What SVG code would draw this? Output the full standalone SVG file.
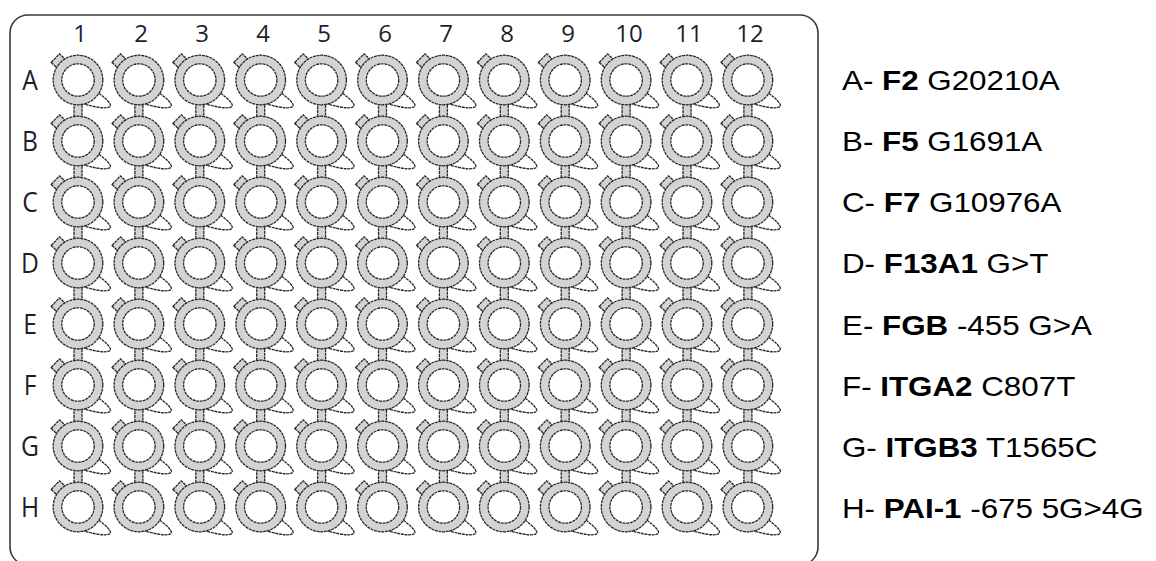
<svg xmlns="http://www.w3.org/2000/svg" xmlns:xlink="http://www.w3.org/1999/xlink" width="1156" height="561" viewBox="0 0 1156 561">
<style>
  .ol{stroke:#2a2a2a;stroke-width:1.3;stroke-dasharray:3 0.7}
  .ring{fill:#d3d3d3}
  .hole{fill:#ffffff}
  .lobe{fill:#ffffff}
  .lab{font-family:"Open Sans","Liberation Sans",sans-serif;fill:#1e1e2a;text-anchor:middle}
  .num{font-size:24px}
  .row{font-size:28px}
  .leg{font-family:"Liberation Sans",Arial,sans-serif;font-size:28.5px;fill:#000}
  .b{font-weight:bold}
</style>
<defs>
  <g id="wellBase">
    <path class="ol lobe" d="M20.8,13 C27,18 32,22 32.5,25.5 C32.5,29 20,28.5 5.9,23.8 Z"/>
    <rect class="ol ring" x="-6" y="-31.5" width="12" height="8" transform="rotate(-46)"/>
    <circle class="ol ring" r="24.8"/>
    <circle class="ol hole" r="16.2"/>
  </g>
  <g id="well">
    <rect class="ol ring" x="-4" y="22" width="8" height="16"/>
    <use xlink:href="#wellBase"/>
  </g>
</defs>
<rect id="plate" x="10" y="15" width="808" height="550" rx="18" fill="none" stroke="#3a3a3a" stroke-width="1.6"/>
<g id="colLabels" class="lab num">
  <text x="80" y="41.5">1</text><text x="141" y="41.5">2</text><text x="202" y="41.5">3</text><text x="263" y="41.5">4</text>
  <text x="324" y="41.5">5</text><text x="385" y="41.5">6</text><text x="446" y="41.5">7</text><text x="507" y="41.5">8</text>
  <text x="568" y="41.5">9</text><text x="629" y="41.5">10</text><text x="689" y="41.5">11</text><text x="750" y="41.5">12</text>
</g>
<g id="rowLabels" class="lab row">
  <text transform="translate(30,90) scale(0.88,1)">A</text><text transform="translate(30,151) scale(0.88,1)">B</text>
  <text transform="translate(30,212) scale(0.88,1)">C</text><text transform="translate(30,273) scale(0.88,1)">D</text>
  <text transform="translate(30,334) scale(0.88,1)">E</text><text transform="translate(30,395) scale(0.88,1)">F</text>
  <text transform="translate(30,456) scale(0.88,1)">G</text><text transform="translate(30,517) scale(0.88,1)">H</text>
</g>
<g id="rowA" transform="translate(0,80)">
  <use xlink:href="#well" x="78"/><use xlink:href="#well" x="138.9"/><use xlink:href="#well" x="199.8"/><use xlink:href="#well" x="260.7"/><use xlink:href="#well" x="321.6"/><use xlink:href="#well" x="382.5"/><use xlink:href="#well" x="443.4"/><use xlink:href="#well" x="504.3"/><use xlink:href="#well" x="565.2"/><use xlink:href="#well" x="626.1"/><use xlink:href="#well" x="687"/><use xlink:href="#well" x="747.9"/>
</g>
<g id="rowB" transform="translate(0,141)">
  <use xlink:href="#well" x="78"/><use xlink:href="#well" x="138.9"/><use xlink:href="#well" x="199.8"/><use xlink:href="#well" x="260.7"/><use xlink:href="#well" x="321.6"/><use xlink:href="#well" x="382.5"/><use xlink:href="#well" x="443.4"/><use xlink:href="#well" x="504.3"/><use xlink:href="#well" x="565.2"/><use xlink:href="#well" x="626.1"/><use xlink:href="#well" x="687"/><use xlink:href="#well" x="747.9"/>
</g>
<g id="rowC" transform="translate(0,202)">
  <use xlink:href="#well" x="78"/><use xlink:href="#well" x="138.9"/><use xlink:href="#well" x="199.8"/><use xlink:href="#well" x="260.7"/><use xlink:href="#well" x="321.6"/><use xlink:href="#well" x="382.5"/><use xlink:href="#well" x="443.4"/><use xlink:href="#well" x="504.3"/><use xlink:href="#well" x="565.2"/><use xlink:href="#well" x="626.1"/><use xlink:href="#well" x="687"/><use xlink:href="#well" x="747.9"/>
</g>
<g id="rowD" transform="translate(0,263)">
  <use xlink:href="#well" x="78"/><use xlink:href="#well" x="138.9"/><use xlink:href="#well" x="199.8"/><use xlink:href="#well" x="260.7"/><use xlink:href="#well" x="321.6"/><use xlink:href="#well" x="382.5"/><use xlink:href="#well" x="443.4"/><use xlink:href="#well" x="504.3"/><use xlink:href="#well" x="565.2"/><use xlink:href="#well" x="626.1"/><use xlink:href="#well" x="687"/><use xlink:href="#well" x="747.9"/>
</g>
<g id="rowE" transform="translate(0,324)">
  <use xlink:href="#well" x="78"/><use xlink:href="#well" x="138.9"/><use xlink:href="#well" x="199.8"/><use xlink:href="#well" x="260.7"/><use xlink:href="#well" x="321.6"/><use xlink:href="#well" x="382.5"/><use xlink:href="#well" x="443.4"/><use xlink:href="#well" x="504.3"/><use xlink:href="#well" x="565.2"/><use xlink:href="#well" x="626.1"/><use xlink:href="#well" x="687"/><use xlink:href="#well" x="747.9"/>
</g>
<g id="rowF" transform="translate(0,385)">
  <use xlink:href="#well" x="78"/><use xlink:href="#well" x="138.9"/><use xlink:href="#well" x="199.8"/><use xlink:href="#well" x="260.7"/><use xlink:href="#well" x="321.6"/><use xlink:href="#well" x="382.5"/><use xlink:href="#well" x="443.4"/><use xlink:href="#well" x="504.3"/><use xlink:href="#well" x="565.2"/><use xlink:href="#well" x="626.1"/><use xlink:href="#well" x="687"/><use xlink:href="#well" x="747.9"/>
</g>
<g id="rowG" transform="translate(0,446)">
  <use xlink:href="#well" x="78"/><use xlink:href="#well" x="138.9"/><use xlink:href="#well" x="199.8"/><use xlink:href="#well" x="260.7"/><use xlink:href="#well" x="321.6"/><use xlink:href="#well" x="382.5"/><use xlink:href="#well" x="443.4"/><use xlink:href="#well" x="504.3"/><use xlink:href="#well" x="565.2"/><use xlink:href="#well" x="626.1"/><use xlink:href="#well" x="687"/><use xlink:href="#well" x="747.9"/>
</g>
<g id="rowH" transform="translate(0,507)">
  <use xlink:href="#wellBase" x="78"/><use xlink:href="#wellBase" x="138.9"/><use xlink:href="#wellBase" x="199.8"/><use xlink:href="#wellBase" x="260.7"/><use xlink:href="#wellBase" x="321.6"/><use xlink:href="#wellBase" x="382.5"/><use xlink:href="#wellBase" x="443.4"/><use xlink:href="#wellBase" x="504.3"/><use xlink:href="#wellBase" x="565.2"/><use xlink:href="#wellBase" x="626.1"/><use xlink:href="#wellBase" x="687"/><use xlink:href="#wellBase" x="747.9"/>
</g>
<g id="legend" class="leg">
  <g id="legA"><text transform="translate(842,90) scale(1.1,1)">A- <tspan class="b">F2</tspan> G20210A</text></g>
  <g id="legB"><text transform="translate(842,151) scale(1.1,1)">B- <tspan class="b">F5</tspan> G1691A</text></g>
  <g id="legC"><text transform="translate(842,212) scale(1.1,1)">C- <tspan class="b">F7</tspan> G10976A</text></g>
  <g id="legD"><text transform="translate(842,273) scale(1.1,1)">D- <tspan class="b">F13A1</tspan> G&gt;T</text></g>
  <g id="legE"><text transform="translate(842,335) scale(1.1,1)">E- <tspan class="b">FGB</tspan> -455 G&gt;A</text></g>
  <g id="legF"><text transform="translate(842,396) scale(1.1,1)">F- <tspan class="b">ITGA2</tspan> C807T</text></g>
  <g id="legG"><text transform="translate(842,457) scale(1.1,1)">G- <tspan class="b">ITGB3</tspan> T1565C</text></g>
  <g id="legH"><text transform="translate(842,518) scale(1.1,1)">H- <tspan class="b">PAI-1</tspan> -675 5G&gt;4G</text></g>
</g>
</svg>
